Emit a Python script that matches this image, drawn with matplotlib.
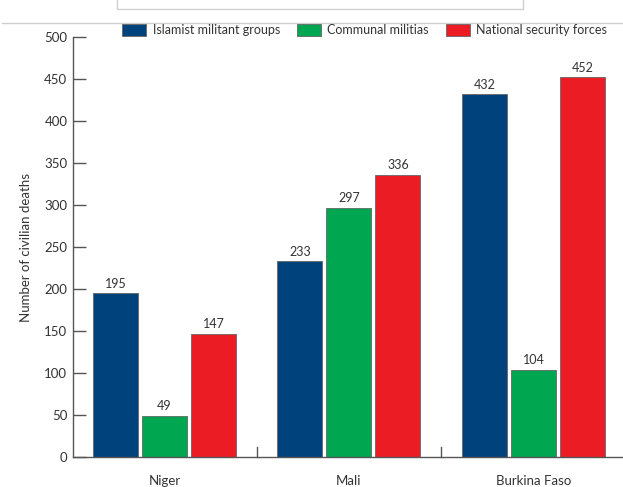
import numpy as np
import matplotlib.pyplot as plt
from matplotlib.lines import Line2D
from matplotlib.patches import Rectangle

countries = ['Niger', 'Mali', 'Burkina Faso']
series = ['Islamist militant groups', 'Communal militias', 'National security forces']
islamist = [195, 233, 432]
communal = [49, 297, 104]
national = [147, 336, 452]
colors = ['#00427c', '#00a650', '#ec1c24']

plt.rcParams['font.family'] = ['Lato', 'DejaVu Sans']

fig = plt.figure(figsize=(6.23, 4.87), dpi=100)
ax = fig.add_axes([0.117, 0.0616, 0.883, 0.8624])

x = np.arange(len(countries))
width = 0.244
offset = 0.2656
bars = []
for i, (vals, col, name) in enumerate(zip([islamist, communal, national], colors, series)):
    b = ax.bar(x + (i - 1) * offset, vals, width, color=col, edgecolor='#666666',
               linewidth=0.6, label=name)
    bars.append(b)
    for xi, v in zip(x + (i - 1) * offset, vals):
        ax.text(xi, v + 4, str(v), ha='center', va='bottom', fontsize=9, color='#333333')

ax.set_xlim(-0.496, 2.485)
ax.set_ylim(0, 500)
ax.set_yticks(range(0, 501, 50))
ax.tick_params(axis='y', direction='in', length=9.5, width=1, color='#555555',
               labelsize=9.5, labelcolor='#333333', pad=4)
ax.set_xticks(x)
ax.set_xticklabels(countries)
ax.tick_params(axis='x', length=0, labelsize=9.5, labelcolor='#333333', pad=13)
for s in ['top', 'right']:
    ax.spines[s].set_visible(False)
for s in ['left', 'bottom']:
    ax.spines[s].set_color('#555555')
    ax.spines[s].set_linewidth(1)

# separator ticks between country groups
for sx in [0.5, 1.5]:
    ax.plot([sx, sx], [0, 12], color='#555555', lw=1, clip_on=False)

ax.set_ylabel('Number of civilian deaths', fontsize=9.5, color='#333333')
ax.yaxis.set_label_coords(-0.075, 0.5)

fig.legend(handles=bars, loc='upper left', bbox_to_anchor=(122 / 623, 1 - 24 / 487), ncol=3,
           frameon=False, fontsize=9, handlelength=1.9, handleheight=1.1,
           handletextpad=0.55, columnspacing=1.35, labelcolor='#333333',
           borderpad=0, borderaxespad=0)

# faint screenshot frame lines at the top
fig.add_artist(Line2D([0.003, 1.0], [1 - 23 / 487, 1 - 23 / 487], color='#d0d0d0', lw=1))
fig.add_artist(Rectangle((117 / 623, 1 - 9 / 487), (523 - 117) / 623, 0.05,
                         fill=False, edgecolor='#d0d0d0', lw=1))

fig.savefig('out.png', dpi=100)
